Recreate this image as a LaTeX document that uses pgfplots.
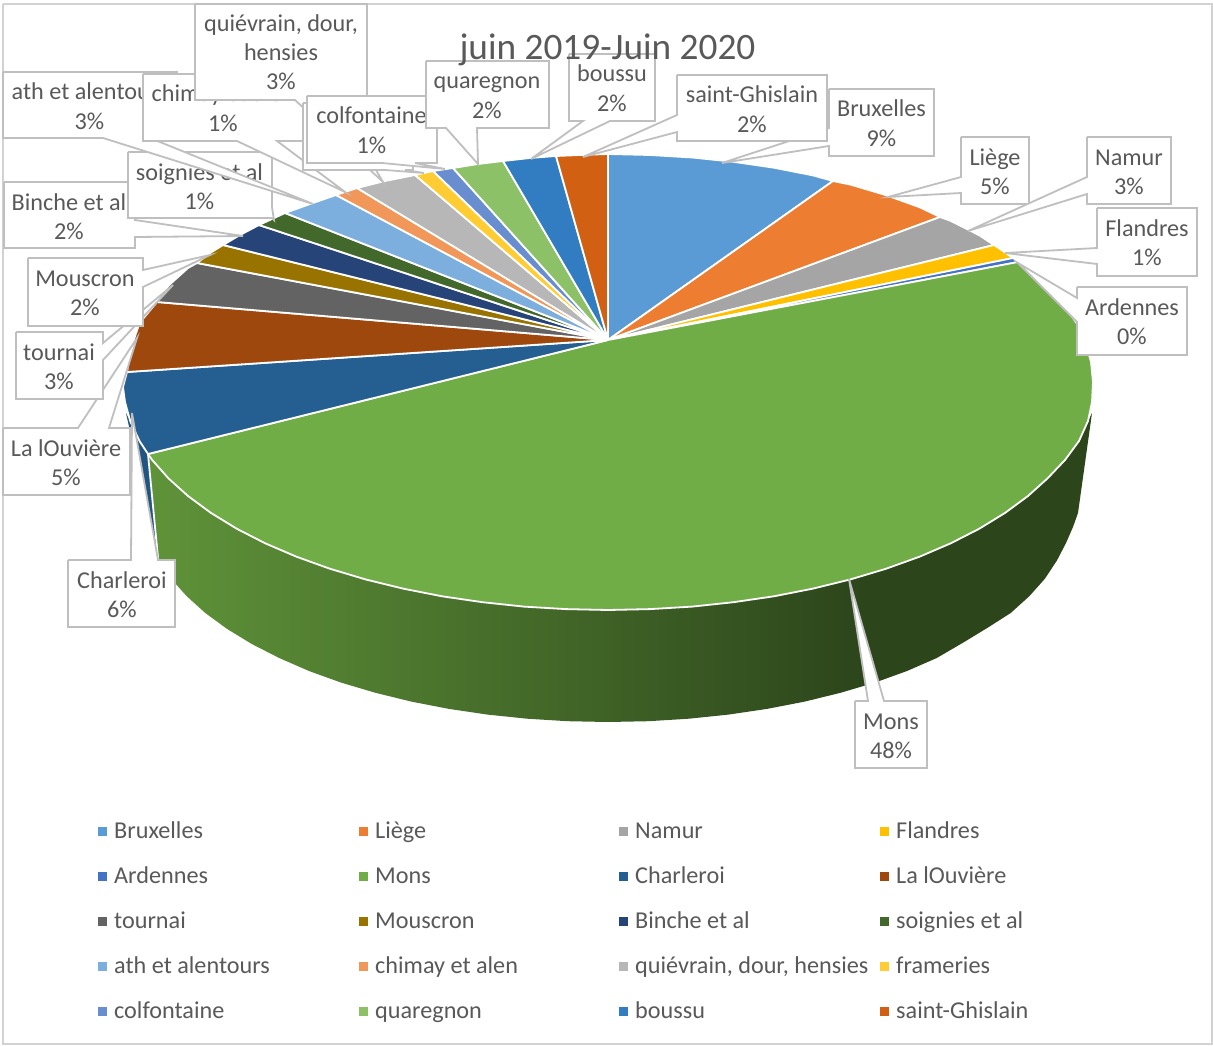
\documentclass[border=0pt]{standalone}
\usepackage{pgfplots}
\pgfplotsset{compat=1.18}
\usepackage{fontspec}
\setmainfont{Carlito}
\definecolor{txt}{HTML}{595959}
\definecolor{boxline}{HTML}{BFBFBF}
\definecolor{cA}{HTML}{5B9BD5}
\definecolor{cB}{HTML}{ED7D31}
\definecolor{cC}{HTML}{A5A5A5}
\definecolor{cD}{HTML}{FFC000}
\definecolor{cE}{HTML}{4472C4}
\definecolor{cF}{HTML}{70AD47}
\definecolor{cG}{HTML}{255E91}
\definecolor{cH}{HTML}{9E480E}
\definecolor{cI}{HTML}{636363}
\definecolor{cJ}{HTML}{997300}
\definecolor{cK}{HTML}{264478}
\definecolor{cL}{HTML}{43682B}
\definecolor{cM}{HTML}{7CAFDD}
\definecolor{cN}{HTML}{F1975A}
\definecolor{cO}{HTML}{B7B7B7}
\definecolor{cP}{HTML}{FFCD33}
\definecolor{cQ}{HTML}{698ED0}
\definecolor{cR}{HTML}{8CC168}
\definecolor{cS}{HTML}{327DC2}
\definecolor{cT}{HTML}{D26012}
\definecolor{sideL}{RGB}{95,147,57}
\definecolor{sideR}{RGB}{44,69,27}
% wall of the Mons slice: light on the left, dark from about three quarters of the way
\pgfdeclarehorizontalshading{monsside}{100bp}{color(0bp)=(sideL); color(25bp)=(sideL); color(63bp)=(sideR); color(100bp)=(sideR)}
\newcommand{\labfont}{\fontsize{24.2}{29}\selectfont\color{txt}}
% two-line data label: centre x, top of box, name, share
\newcommand{\lab}[4]{%
  \node[anchor=base,inner sep=0pt,font=\labfont] at (axis cs:#1,#2+28) {#3};
  \node[anchor=base,inner sep=0pt,font=\labfont] at (axis cs:#1,#2+57.5) {#4};}
% legend entry: swatch x, row centre y, colour, name
\newcommand{\entry}[4]{%
  \addplot[only marks,mark=square*,mark size=4pt,mark options={draw=#3,fill=#3}] coordinates {(#1,#2)};
  \node[anchor=base west,inner sep=0pt,font=\labfont] at (axis cs:#1+12,#2+7.5) {#4};}
\begin{document}
\begin{tikzpicture}
\begin{axis}[
  scale only axis,width=1213pt,height=1046pt,
  xmin=0,xmax=1213,ymin=0,ymax=1046,y dir=reverse,
  hide axis,clip=false,
  slice/.style={fill=#1,draw=white,line width=1.8pt,line join=round},
  callout/.style={fill=white,draw=boxline,line width=1.8pt,line join=miter},
]
% chart area
\addplot[fill=white,draw=none] coordinates {(0,0)(1213,0)(1213,1046)(0,1046)(0,0)};
\addplot[fill=white,draw=boxline!70,line width=1.8pt] coordinates {(3,4)(1212,4)(1212,1044)(3,1044)(3,4)};

% Charleroi wall, a thin strip on the left
\addplot[fill=cG!90!black,draw=none] coordinates {(126,413)(148,454)(158,558)(126,413)};

% Mons wall
\addplot[shading=monsside,draw=none] coordinates {
 (148,454)(152.2,460)(168.5,478.4)(188,496)(210.8,512.8)(236.5,528.6)(265,543.2)(296.2,556.6)
 (329.8,568.7)(365.5,579.4)(403,588.6)(442.1,596.3)(482.5,602.2)(523.8,606.6)(565.7,609.1)(608,610)
 (650.3,609.1)(692.2,606.6)(733.5,602.2)(773.9,596.3)(813,588.6)(850.5,579.4)(886.2,568.7)(919.8,556.6)
 (951,543.2)(979.5,528.6)(1005.2,512.8)(1028,496)(1047.5,478.4)(1065,460)(1079,441)(1088,421)(1092,413)
 (1085,463)(1078,513)(1073,527)(1066,543)(1057,560.4)(1045,578.6)(1029.4,596.1)(1010.7,613)(988.8,627)(964.2,642)(936.8,658)
 (907,671)(874.9,682.6)(840.5,692.8)(804.7,701.6)(767,708.9)(728.4,714.6)(688.9,718.7)(648.5,721.2)(608,722)
 (567.5,721.2)(527.1,718.7)(487.6,714.6)(449,708.9)(411.3,701.6)(375.5,692.8)(341.1,682.6)(309,671)(279.2,658)
 (251.8,644)(227.2,629)(205.3,613)(186.6,596.1)(171,578.6)(159,560.4)(148,454)};
\addplot[draw=white,line width=1.8pt] coordinates {(148,454)(158,558)};

% Top face, one polygon per slice, clockwise from Bruxelles
\addplot[slice=cA] coordinates {(608,340)(608,154)(650,155)(692.2,157.5)(733.5,161.8)(773.9,167.7)(813,175.4)(833,181)(608,340)};
\addplot[slice=cB] coordinates {(608,340)(833,181)(850.5,184.6)(886.2,195.2)(919.8,207.3)(940,217)(608,340)};
\addplot[slice=cC] coordinates {(608,340)(940,217)(951,221)(979.5,235.4)(994,245)(608,340)};
\addplot[slice=cD] coordinates {(608,340)(994,245)(1003,251)(1013,258)(608,340)};
\addplot[slice=cE] coordinates {(608,340)(1013,258)(1018,262)(608,340)};
\addplot[slice=cF] coordinates {(608,340)(1018,262)(1028,270)(1047.5,287)(1063.8,305)(1076.5,323)(1085.6,342.4)(1091,362)(1093,382)
 (1092,402)(1088,421)(1079,441)(1065,460)(1047.5,478.4)(1028,496)(1005.2,512.8)(979.5,528.6)(951,543.2)
 (919.8,556.6)(886.2,568.7)(850.5,579.4)(813,588.6)(773.9,596.3)(733.5,602.2)(692.2,606.6)(650.3,609.1)(608,610)
 (565.7,609.1)(523.8,606.6)(482.5,602.2)(442.1,596.3)(403,588.6)(365.5,579.4)(329.8,568.7)(296.2,556.6)(265,543.2)
 (236.5,528.6)(210.8,512.8)(188,496)(168.5,478.4)(152.2,460)(148,454)(608,340)};
\addplot[slice=cG] coordinates {(608,340)(148,454)(139.5,441)(130.4,421.6)(125,402)(123,387)(127,372)(608,340)};
\addplot[slice=cH] coordinates {(608,340)(127,372)(130.4,350)(139.5,323)(157,302)(608,340)};
\addplot[slice=cI] coordinates {(608,340)(157,302)(168.5,285.6)(188,268)(197,263)(608,340)};
\addplot[slice=cJ] coordinates {(608,340)(197,263)(210,253)(223,245)(608,340)};
\addplot[slice=cK] coordinates {(608,340)(223,245)(240,235)(259,225)(608,340)};
\addplot[slice=cL] coordinates {(608,340)(259,225)(285,213)(608,340)};
\addplot[slice=cM] coordinates {(608,340)(285,213)(310,204)(336,195)(608,340)};
\addplot[slice=cN] coordinates {(608,340)(336,195)(357,188)(608,340)};
\addplot[slice=cO] coordinates {(608,340)(357,188)(385,181)(415,175)(608,340)};
\addplot[slice=cP] coordinates {(608,340)(415,175)(433,171)(608,340)};
\addplot[slice=cQ] coordinates {(608,340)(433,171)(453,168)(608,340)};
\addplot[slice=cR] coordinates {(608,340)(453,168)(478,164)(503,161)(608,340)};
\addplot[slice=cS] coordinates {(608,340)(503,161)(530,158)(556,156)(608,340)};
\addplot[slice=cT] coordinates {(608,340)(556,156)(580,155)(608,154)(608,340)};

% Data labels, later ones lying over earlier ones
\addplot[callout] coordinates {(829,89)(934,89)(934,156)(829,156)(829,146)(722,163)(829,128)(829,89)};
\lab{881.5}{89}{Bruxelles}{9\%}
\addplot[callout] coordinates {(961,137)(1029,137)(1029,204)(961,204)(961,193)(888,197)(961,177)(961,137)};
\lab{995}{137}{Liège}{5\%}
\addplot[callout] coordinates {(1087,137)(1171,137)(1171,204)(1087,204)(1087,194)(968,231)(1087,177)(1087,137)};
\lab{1129}{137}{Namur}{3\%}
\addplot[callout] coordinates {(1097,208)(1197,208)(1197,276)(1097,276)(1097,264)(1005,253)(1097,248)(1097,208)};
\lab{1147}{208}{Flandres}{1\%}
\addplot[callout] coordinates {(1077,287)(1187,287)(1187,355)(1077,355)(1077,322)(1018,263)(1077,298)(1077,287)};
\lab{1132}{287}{Ardennes}{0\%}
\addplot[callout] coordinates {(855,701)(868,701)(849,579)(884,701)(927,701)(927,768)(855,768)(855,701)};
\lab{891}{701}{Mons}{48\%}
\addplot[callout] coordinates {(68,560)(131,560)(132,413)(158,560)(175,560)(175,627)(68,627)(68,560)};
\lab{122}{560}{Charleroi}{6\%}
\addplot[callout] coordinates {(3,428)(78,428)(137,338)(109,428)(130,428)(130,495)(3,495)(3,428)};
\lab{66}{428}{La lOuvière}{5\%}
\addplot[callout] coordinates {(16,332)(103,332)(103,343)(173,285)(103,360)(103,399)(16,399)(16,332)};
\lab{59}{332}{tournai}{3\%}
\addplot[callout] coordinates {(28,258)(143,258)(143,270)(210,255)(143,287)(143,326)(28,326)(28,258)};
\lab{85}{258}{Mouscron}{2\%}
\addplot[callout] coordinates {(4,182)(135,182)(135,220)(243,236)(135,237)(135,248)(4,248)(4,182)};
\lab{69}{182}{Binche et al}{2\%}
\addplot[callout] coordinates {(128,152)(272,152)(272,207)(274,220)(272,218)(128,218)(128,152)};
\lab{199.5}{152}{soignies et al}{1\%}
\addplot[callout] coordinates {(3,72)(177,72)(177,138)(150,138)(313,204)(103,138)(3,138)(3,72)};
\lab{89.5}{72}{ath et alentours}{3\%}
\addplot[callout] coordinates {(143,74)(303,74)(303,141)(277,141)(345,192)(237,141)(143,141)(143,74)};
\lab{223}{74}{chimay et alen}{1\%}
\addplot[callout] coordinates {(195,4)(367,4)(367,100)(335,100)(383,182)(295,100)(195,100)(195,4)};
\node[anchor=base,inner sep=0pt,font=\labfont] at (axis cs:281,32) {quiévrain, dour,};
\node[anchor=base,inner sep=0pt,font=\labfont] at (axis cs:281,61) {hensies};
\node[anchor=base,inner sep=0pt,font=\labfont] at (axis cs:281,90) {3\%};
\addplot[callout] coordinates {(303,103)(413,103)(413,170)(405,170)(424,173)(385,170)(303,170)(303,103)};
\addplot[callout] coordinates {(307,96)(437,96)(437,163)(415,163)(445,169)(382,163)(307,163)(307,96)};
\lab{371.5}{96}{colfontaine}{1\%}
\addplot[callout] coordinates {(426,61)(549,61)(549,128)(477,128)(478,164)(446,128)(426,128)(426,61)};
\lab{487}{61}{quaregnon}{2\%}
\addplot[callout] coordinates {(569,54)(655,54)(655,121)(610,121)(531,159)(583,121)(569,121)(569,54)};
\lab{612}{54}{boussu}{2\%}
\addplot[callout] coordinates {(677,75)(827,75)(827,141)(677,141)(677,132)(583,157)(677,115)(677,75)};
\lab{752}{75}{saint-Ghislain}{2\%}

% Title
\node[anchor=base,inner sep=0pt,font=\fontsize{37.3}{44}\selectfont\color{txt}] at (axis cs:607.5,60) {juin 2019-Juin 2020};

% Legend
\entry{102}{831}{cA}{Bruxelles}
\entry{363}{831}{cB}{Liège}
\entry{623}{831}{cC}{Namur}
\entry{884}{831}{cD}{Flandres}
\entry{102}{876}{cE}{Ardennes}
\entry{363}{876}{cF}{Mons}
\entry{623}{876}{cG}{Charleroi}
\entry{884}{876}{cH}{La lOuvière}
\entry{102}{921}{cI}{tournai}
\entry{363}{921}{cJ}{Mouscron}
\entry{623}{921}{cK}{Binche et al}
\entry{884}{921}{cL}{soignies et al}
\entry{102}{966}{cM}{ath et alentours}
\entry{363}{966}{cN}{chimay et alen}
\entry{623}{966}{cO}{quiévrain, dour, hensies}
\entry{884}{966}{cP}{frameries}
\entry{102}{1011}{cQ}{colfontaine}
\entry{363}{1011}{cR}{quaregnon}
\entry{623}{1011}{cS}{boussu}
\entry{884}{1011}{cT}{saint-Ghislain}
\end{axis}
\end{tikzpicture}
\end{document}
